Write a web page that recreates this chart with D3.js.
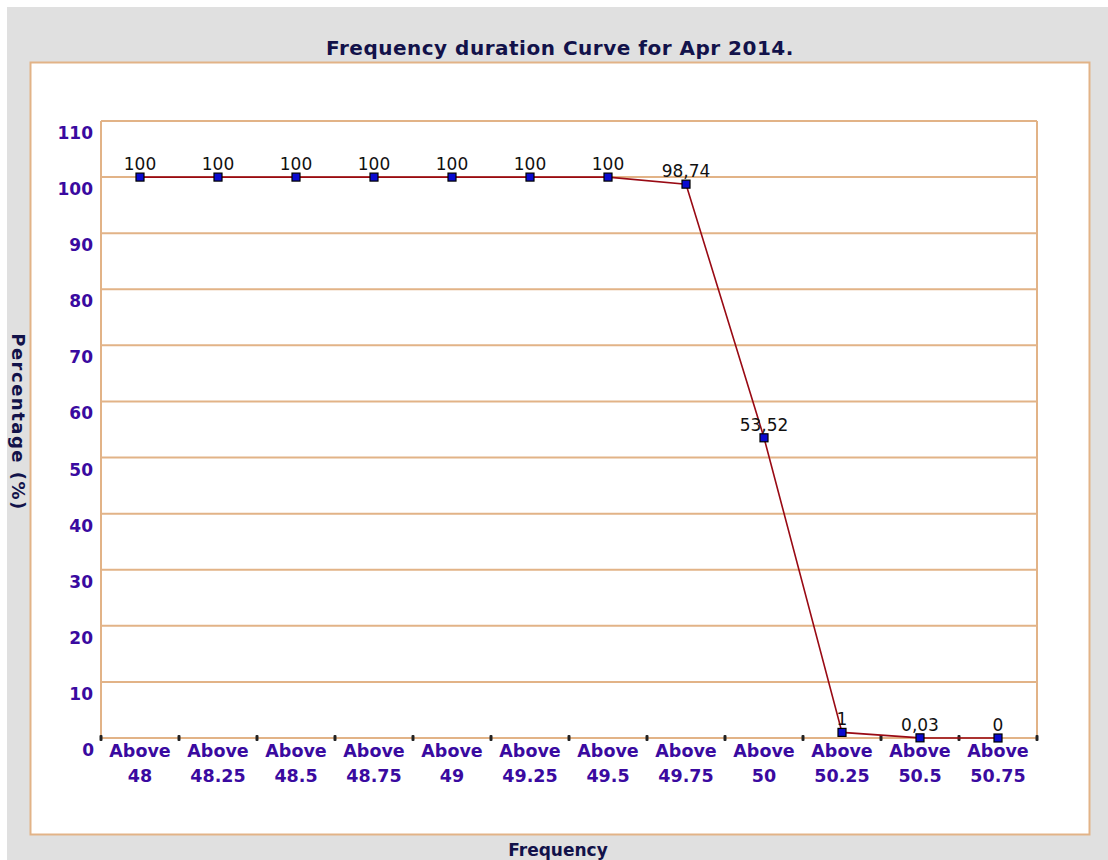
<!DOCTYPE html>
<html>
<head>
<meta charset="utf-8">
<script src="https://cdn.jsdelivr.net/npm/d3@7"></script>
<style>
  body { margin: 0; background: #fff; }
  svg { display: block; }
</style>
</head>
<body>
<svg id="chart" width="1108" height="860"></svg>
<script>
// chart data
const categories = ["48", "48.25", "48.5", "48.75", "49", "49.25", "49.5", "49.75", "50", "50.25", "50.5", "50.75"];
const percentages = [100, 100, 100, 100, 100, 100, 100, 98.74, 53.52, 1, 0.03, 0];
const yTicks = [0, 10, 20, 30, 40, 50, 60, 70, 80, 90, 100, 110];

const plot = { left: 101, top: 121, right: 1037, bottom: 738 };
const tan = "#e2b387";
const indigo = "#3a0aa0";
const navy = "#12124a";
const font = "'DejaVu Sans', Verdana, sans-serif";

const svg = d3.select("#chart");

// backgrounds
svg.append("rect").attr("x", 7).attr("y", 7).attr("width", 1101).attr("height", 853).attr("fill", "#e0e0e0");
svg.append("rect").attr("x", 30.5).attr("y", 62.5).attr("width", 1059).attr("height", 772)
  .attr("fill", "#fff").attr("stroke", tan).attr("stroke-width", 2);

/* Scales */
const x = d3.scaleBand().domain(categories).range([plot.left, plot.right]);
const y = d3.scaleLinear().domain([0, 110]).range([plot.bottom, plot.top]);

// gridlines
svg.append("g").selectAll("line").data(yTicks).join("line")
  .attr("x1", plot.left).attr("x2", plot.right)
  .attr("y1", d => y(d)).attr("y2", d => y(d))
  .attr("stroke", tan).attr("stroke-width", 2);

svg.append("line").attr("x1", plot.left).attr("x2", plot.left)
  .attr("y1", plot.top).attr("y2", plot.bottom).attr("stroke", tan).attr("stroke-width", 2);
svg.append("line").attr("x1", plot.right).attr("x2", plot.right)
  .attr("y1", plot.top).attr("y2", plot.bottom).attr("stroke", tan).attr("stroke-width", 2);

// y tick labels (drawn just below each gridline)
svg.append("g").selectAll("text").data(yTicks).join("text")
  .attr("x", d => d === 0 ? 94 : 93)
  .attr("y", d => y(d) + 18)
  .attr("text-anchor", "end")
  .attr("font-family", font).attr("font-weight", "bold").attr("font-size", 17)
  .attr("fill", indigo)
  .text(d => d);

// x tick dots at band boundaries
const boundaries = categories.map(c => x(c)).concat([plot.right]);
svg.append("g").selectAll("rect").data(boundaries).join("rect")
  .attr("x", d => d - 1.5).attr("y", plot.bottom - 3)
  .attr("width", 3).attr("height", 6).attr("rx", 1)
  .attr("fill", "#222");

// x labels
const xl = svg.append("g").selectAll("text").data(categories).join("text")
  .attr("x", d => x(d) + x.bandwidth() / 2)
  .attr("y", 757)
  .attr("text-anchor", "middle")
  .attr("font-family", font).attr("font-weight", "bold").attr("font-size", 17.5)
  .attr("fill", indigo);
xl.append("tspan").attr("x", d => x(d) + x.bandwidth() / 2).attr("dy", 0).text("Above");
xl.append("tspan").attr("x", d => x(d) + x.bandwidth() / 2).attr("dy", 25).text(d => d);

// line
const line = d3.line()
  .x((d, i) => x(categories[i]) + x.bandwidth() / 2)
  .y(d => y(d));

svg.append("path").datum(percentages)
  .attr("d", line)
  .attr("fill", "none")
  .attr("stroke", "#990a14")
  .attr("stroke-width", 1.6);

// markers
svg.append("g").selectAll("rect").data(percentages).join("rect")
  .attr("x", (d, i) => x(categories[i]) + x.bandwidth() / 2 - 4)
  .attr("y", d => y(d) - 4)
  .attr("width", 8).attr("height", 8)
  .attr("fill", "#0a0ad0").attr("stroke", "#000").attr("stroke-width", 1.2);

// value labels
svg.append("g").selectAll("text").data(percentages).join("text")
  .attr("x", (d, i) => x(categories[i]) + x.bandwidth() / 2)
  .attr("y", d => y(d) - 7)
  .attr("text-anchor", "middle")
  .attr("font-family", font).attr("font-size", 17)
  .attr("fill", "#111")
  .text(d => String(d).replace(".", ","));

// titles
svg.append("text").attr("x", 560).attr("y", 55)
  .attr("text-anchor", "middle")
  .attr("font-family", font).attr("font-weight", "bold").attr("font-size", 20)
  .attr("letter-spacing", 0.5)
  .attr("fill", navy)
  .text("Frequency duration Curve for Apr 2014.");

svg.append("text").attr("x", 558).attr("y", 856)
  .attr("text-anchor", "middle")
  .attr("font-family", font).attr("font-weight", "bold").attr("font-size", 17)
  .attr("fill", navy)
  .text("Frequency");

svg.append("text")
  .attr("transform", "translate(12,422) rotate(90)")
  .attr("text-anchor", "middle")
  .attr("font-family", font).attr("font-weight", "bold").attr("font-size", 18)
  .attr("letter-spacing", 1.5)
  .attr("fill", navy)
  .text("Percentage (%)");
</script>
</body>
</html>
